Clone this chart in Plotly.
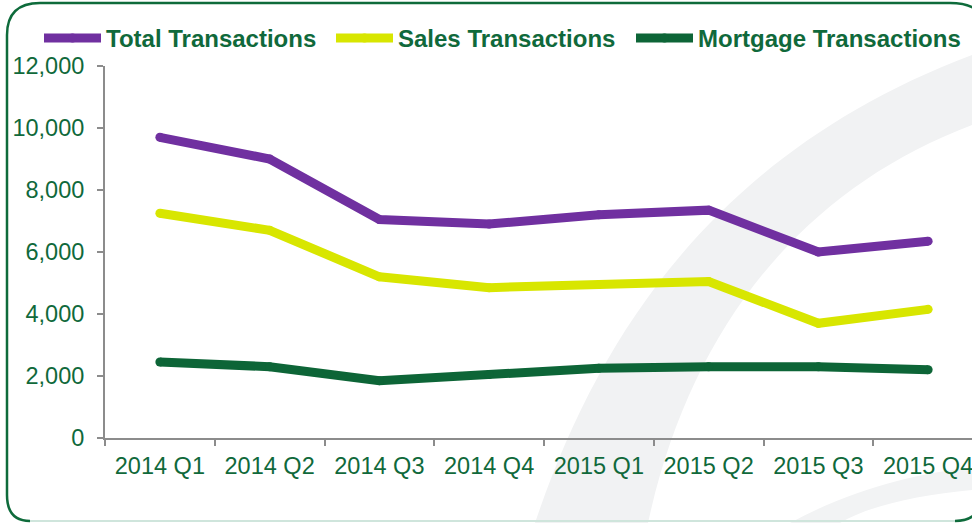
import plotly.graph_objects as go

quarters = ["2014 Q1", "2014 Q2", "2014 Q3", "2014 Q4", "2015 Q1", "2015 Q2", "2015 Q3", "2015 Q4"]
total_tx = [9700, 9000, 7050, 6900, 7200, 7350, 6000, 6350]
sales_tx = [7250, 6700, 5200, 4850, 4950, 5050, 3700, 4150]
mortgage_tx = [2450, 2300, 1850, 2050, 2250, 2300, 2300, 2200]

series_names = ["Total Transactions", "Sales Transactions", "Mortgage Transactions"]
series_colors = ["#7030a0", "#d8e600", "#0d6537"]
y_ticks = [0, 2000, 4000, 6000, 8000, 10000, 12000]

W, H = 972, 523
L, R, T, B = 105, 0, 66, 85
TEXT = "#10693b"
AXIS = "#8c8c8c"

def px(x):
    return (x - L) / (W - L - R)

def py(y):
    return (H - B - y) / (H - T - B)

def path(cmds):
    out = []
    for c in cmds:
        if isinstance(c, str):
            out.append(c)
        else:
            out.append(f"{px(c[0]):.5f},{py(c[1]):.5f}")
    return " ".join(out)

legend_ids = ["legend", "legend2", "legend3"]
legend_x = [39, 331, 631]

fig = go.Figure()
for name, vals, col, lid in zip(series_names, [total_tx, sales_tx, mortgage_tx], series_colors, legend_ids):
    fig.add_trace(go.Scatter(
        x=quarters, y=vals, name=name, mode="lines+markers",
        line=dict(color=col, width=9),
        marker=dict(color=col, size=9),
        cliponaxis=False, legend=lid,
    ))

shapes = []
# faint watermark swooshes
shapes.append(dict(type="path", xref="paper", yref="paper", layer="below",
    path=path(["M", (535, 523), "C", (600, 330), (720, 150), (972, 55),
               "L", (972, 125), "C", (800, 190), (690, 330), (648, 523), "Z"]),
    fillcolor="#f1f2f3", line=dict(width=0)))
shapes.append(dict(type="path", xref="paper", yref="paper", layer="below",
    path=path(["M", (790, 523), "C", (850, 490), (920, 472), (972, 468),
               "L", (972, 490), "C", (920, 495), (870, 505), (840, 523), "Z"]),
    fillcolor="#f2f3f4", line=dict(width=0)))
# rounded border
shapes.append(dict(type="path", xref="paper", yref="paper", layer="above",
    path=path(["M", (30, 521), "Q", (7, 521), (7, 495), "L", (7, 35), "Q", (7, 3), (40, 3),
               "L", (950, 3), "Q", (985, 3), (985, 30)]),
    line=dict(color="#0e6b3b", width=2.5)))
shapes.append(dict(type="path", xref="paper", yref="paper", layer="above",
    path=path(["M", (30, 521), "L", (955, 521)]),
    line=dict(color="#cfe5dc", width=2)))
shapes.append(dict(type="path", xref="paper", yref="paper", layer="above",
    path=path(["M", (955, 521), "Q", (972, 521), (978, 510)]),
    line=dict(color="#0e6b3b", width=2.5)))

legend_style = dict(
    orientation="h", xanchor="left", y=py(38.5), yanchor="middle",
    font=dict(size=24, color=TEXT, family="Liberation Sans, Arial, sans-serif", weight="bold"),
    bgcolor="rgba(0,0,0,0)", itemwidth=57,
    itemclick=False, itemdoubleclick=False,
)

layout_legends = {lid: dict(legend_style, x=px(lx)) for lid, lx in zip(legend_ids, legend_x)}

fig.update_layout(
    width=W, height=H,
    margin=dict(l=L, r=R, t=T, b=B, pad=0),
    paper_bgcolor="white", plot_bgcolor="rgba(0,0,0,0)",
    font=dict(family="Liberation Sans, Arial, sans-serif", color=TEXT, size=23),
    shapes=shapes,
    showlegend=True,
    xaxis=dict(
        type="category", range=[-0.5, 7.5 - 11 / 109.75],
        showline=True, linecolor=AXIS, linewidth=2,
        ticks="outside", tickson="boundaries", ticklen=6, tickcolor=AXIS, tickwidth=2,
        showgrid=False, zeroline=False, ticklabelstandoff=6,
        tickfont=dict(size=23.5, color=TEXT),
    ),
    yaxis=dict(
        range=[0, 12000], tickvals=y_ticks, tickformat=",",
        showline=True, linecolor=AXIS, linewidth=2,
        ticks="outside", ticklen=6, tickcolor=AXIS, tickwidth=2,
        showgrid=False, zeroline=False, ticklabelstandoff=8,
        tickfont=dict(size=23.5, color=TEXT),
    ),
    **layout_legends,
)

fig.write_html("out.html", config={"displayModeBar": False},
               post_script="document.body.style.margin='0';")
